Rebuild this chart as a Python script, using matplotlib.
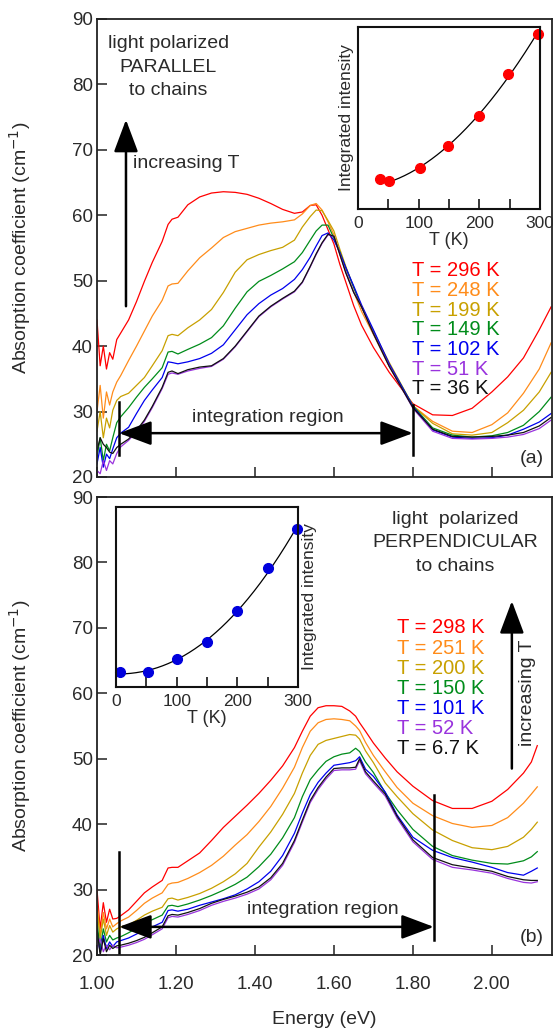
import numpy as np
import matplotlib
matplotlib.use("Agg")
import matplotlib.pyplot as plt

plt.rcParams["font.family"] = ["Liberation Sans", "DejaVu Sans"]

# ---- data ---------------------------------------------------------------
# panel (a): light polarized parallel to chains
TOP_E = [1.000, 1.008, 1.016, 1.024, 1.032, 1.040, 1.050, 1.060, 1.080, 1.100,
         1.120, 1.140, 1.165, 1.180, 1.190, 1.205, 1.230, 1.260, 1.290, 1.320,
         1.350, 1.380, 1.410, 1.440, 1.470, 1.500, 1.520, 1.540, 1.555, 1.570,
         1.585, 1.600, 1.615, 1.630, 1.650, 1.670, 1.700, 1.740, 1.800, 1.850,
         1.900, 1.950, 2.000, 2.040, 2.080, 2.120, 2.150]
TOP_296 = [44, 37, 40, 36.5, 39, 38, 41, 42, 44, 46.8, 49.9, 52.8, 56, 58.6, 59.4,
           59.7, 61.6, 62.8, 63.4, 63.6, 63.5, 63.2, 62.6, 61.8, 60.9, 60.3, 60.5,
           61.5, 61.6, 60, 57.8, 55.6, 52.5, 49.8, 46.2, 43.2, 39.8, 36, 31.2, 29.5,
           29.4, 30.5, 33, 35.3, 38.2, 42.5, 46]
TOP_248 = [30, 34, 29, 33, 31, 33, 34.5, 35.5, 37.8, 40, 42.3, 44.6, 47, 49.2, 49.5,
           49.6, 51.5, 53.5, 55, 56.6, 57.5, 58, 58.5, 58.8, 59, 59.3, 60.2, 61.5,
           61.8, 60.8, 59, 57, 54, 51.5, 48.3, 45.3, 41.8, 36.9, 30.9, 28.5, 27,
           26.8, 28, 29.8, 32.8, 36.5, 40.5]
TOP_199 = [27, 30, 26, 29, 27.5, 30.2, 31.7, 32.3, 32.8, 34, 35.2, 37, 39.3, 41.6,
           41.8, 41.6, 42.8, 44, 45.6, 48.2, 51.3, 53.2, 54, 54.6, 55.1, 56.2, 58.2,
           59.8, 60.8, 60.7, 59.2, 57.6, 54.8, 52.2, 49, 46, 42.2, 37.5, 30.9, 28.2,
           26.6, 26.4, 26.8, 28.3, 30.2, 33, 36]
TOP_149 = [23, 26, 22.5, 25, 24, 26, 28.3, 29.2, 30.6, 32.2, 33.7, 35, 36.7, 39.1,
           39.2, 38.8, 39.5, 40.3, 41.3, 43.1, 45.8, 48.3, 49.9, 50.8, 51.8, 52.9,
           54.3, 56.2, 57.6, 58.5, 58.5, 56.5, 54.4, 52, 49, 46, 42.3, 37.2, 30.9,
           27.5, 26.4, 26.1, 26.3, 26.8, 27.9, 30, 32.2]
TOP_102 = [22, 24.5, 21.5, 23.5, 22.8, 24.3, 26, 26.7, 27.6, 29.7, 31.7, 33.3, 35.2,
           37.6, 37.5, 37.3, 37.6, 38.1, 38.9, 40.2, 42.5, 44.8, 46.5, 47.8, 48.8,
           50.2, 51.7, 53.6, 55.3, 56.9, 57.3, 56.2, 54.3, 52, 49.2, 46.3, 42.5, 37.3,
           30.8, 27.2, 26.1, 25.9, 26, 26.4, 27.3, 28.4, 29.7]
TOP_51 = [21, 20.5, 22.5, 21, 22.5, 22, 23.6, 24.6, 25.6, 26.9, 28.5, 30.6, 33.5,
          35.7, 35.9, 35.7, 36.2, 36.6, 36.9, 38, 39.9, 42.2, 44.5, 46, 47.2, 48.3,
          49.7, 52.1, 54, 55.7, 57, 56.8, 54.1, 51.3, 48.3, 46, 42, 37, 30.5, 27,
          25.9, 25.8, 25.9, 26.1, 26.5, 27.4, 28.7]
TOP_36 = [24, 26, 25, 24.5, 23.8, 23.6, 24.5, 25, 25.8, 27.1, 28.7, 30.8, 33.7, 36,
          36.2, 35.8, 36.4, 36.8, 37, 38.1, 40, 42.3, 44.6, 46.1, 47.3, 48.4, 49.8,
          52.2, 54.1, 55.8, 57.1, 56.8, 54, 51.2, 48.2, 46, 41.9, 36.9, 30.6, 27.3,
          26.2, 26.1, 26.2, 26.4, 26.8, 27.8, 29.1]
TOP_TEMPS = ["296", "248", "199", "149", "102", "51", "36"]

# panel (b): light polarized perpendicular to chains
BOT_E = [1.000, 1.008, 1.016, 1.024, 1.032, 1.040, 1.050, 1.060, 1.080, 1.100,
         1.120, 1.140, 1.165, 1.180, 1.190, 1.205, 1.230, 1.260, 1.290, 1.320,
         1.350, 1.380, 1.410, 1.440, 1.470, 1.500, 1.520, 1.540, 1.560, 1.580,
         1.600, 1.620, 1.640, 1.655, 1.665, 1.680, 1.700, 1.730, 1.760, 1.800,
         1.850, 1.900, 1.950, 2.000, 2.040, 2.080, 2.100, 2.115]
BOT_298 = [30, 24, 28, 25, 27, 25.5, 25.6, 26, 26.9, 28.2, 29.5, 30.4, 31.4, 33.3,
           33.4, 33.4, 34.4, 35.6, 37.5, 39.5, 41.2, 42.9, 44.7, 46.7, 48.9, 51.7,
           54.2, 56.5, 57.8, 58.1, 58.1, 58, 57.3, 56.5, 55.5, 54.2, 52.4, 50.1, 48,
           45.8, 43.6, 42.4, 42.4, 43.5, 45.3, 47.8, 49.5, 52]
BOT_251 = [28, 23, 26.5, 24, 25.5, 24.3, 24.8, 25.2, 25.8, 26.8, 27.9, 28.7, 29.5,
           30.8, 31, 31.1, 31.7, 32.6, 33.7, 35.1, 36.8, 38.4, 40.4, 42.7, 45.5,
           48.7, 51.7, 54.2, 55.5, 56, 56.1, 56, 55.8, 55, 54.3, 52.5, 50.5, 48,
           45.6, 43.2, 41.3, 40.1, 39.5, 39.8, 41, 43.2, 44.6, 45.7]
BOT_200 = [27, 22.5, 25.5, 23, 24.5, 23.5, 24, 24.3, 24.6, 25.3, 26.1, 26.7, 27.3,
           28.6, 28.7, 28.4, 28.8, 29.4, 30.2, 31.2, 32.4, 34, 36.5, 38.8, 41.5,
           44.7, 47.8, 50.5, 52.2, 52.8, 53.1, 53.4, 53.7, 53.6, 53, 51.2, 49.4,
           46.3, 44.2, 41.6, 39.1, 37.5, 36.4, 36.1, 36.6, 38, 39.2, 40.3]
BOT_150 = [25, 21, 24, 22, 23, 22.3, 22.6, 22.8, 23.4, 24.1, 24.9, 25.4, 26.1, 27.5,
           27.6, 27.4, 27.8, 28.4, 29.1, 29.9, 30.8, 31.9, 33.5, 35.4, 37.9, 41,
           44.2, 46.8, 48.3, 49.6, 50.3, 50.7, 50.9, 51.6, 51.1, 49.5, 47.9, 44.8,
           42.2, 39.2, 36.6, 35.2, 34.5, 34, 33.9, 34.4, 35, 35.8]
BOT_101 = [23, 20.5, 23, 21, 22, 21.3, 22, 22.2, 22.6, 23.2, 23.8, 24.3, 25, 26.8,
           26.9, 26.7, 27, 27.6, 28.1, 28.6, 29.2, 30.1, 31.2, 32.8, 35.2, 38.6,
           41.7, 44.5, 46.4, 47.8, 49, 49.2, 49.4, 49.7, 50.3, 48.4, 47.3, 44.9,
           41.4, 38, 36, 34.9, 34.2, 33.4, 32.6, 32.2, 32.8, 33.3]
BOT_52 = [21, 22.5, 20.5, 21.5, 20.8, 21.5, 21.1, 21.2, 21.5, 21.9, 22.4, 23.1, 24,
          25.7, 25.9, 25.8, 26.2, 26.8, 27.6, 28.2, 28.7, 29.3, 30.1, 31.5, 33.7,
          37.2, 40.3, 43.3, 45.3, 46.9, 48.2, 48.3, 48.3, 48.4, 49.7, 47.7, 46.3,
          44.3, 40.9, 37.3, 34.6, 33.4, 33, 32.5, 31.7, 31.1, 31, 31.2]
BOT_6 = [24, 20, 22.5, 20.5, 21.5, 21, 21.4, 21.5, 21.8, 22.2, 22.7, 23.4, 24.3, 26,
         26.2, 26.1, 26.5, 27.1, 27.9, 28.5, 29, 29.6, 30.4, 31.8, 34, 37.5, 40.6,
         43.6, 45.6, 47.2, 48.5, 48.6, 48.6, 48.7, 50, 48, 46.6, 44.6, 41.2, 37.6,
         34.9, 33.8, 33.3, 32.8, 32, 31.5, 31.4, 31.4]
BOT_TEMPS = ["298", "251", "200", "150", "101", "52", "6.7"]

# insets: integrated intensity (arb. units) vs T
INSET_T_PAR = [36, 51, 102, 149, 199, 248, 296]
INSET_I_PAR = [16.5, 15.4, 22.5, 34.6, 51.1, 74.2, 96.2]
INSET_T_PERP = [6.7, 52, 101, 150, 200, 251, 298]
INSET_I_PERP = [8.3, 8.3, 15.6, 25.0, 42.0, 66.0, 87.8]

COLORS = ["#ff0000", "#ff8c1a", "#c8a000", "#008c1a", "#0000ee", "#9933dd", "#111111"]
TXT = "#2a2a2a"


def _fit_power(t, y, t_from, t_to):
    """least-squares a + b*T**n, n scanned on a grid"""
    t = np.asarray(t, float)
    y = np.asarray(y, float)
    best = None
    for n in np.linspace(1.0, 5.0, 161):
        A = np.column_stack([np.ones_like(t), t ** n])
        coef, *_ = np.linalg.lstsq(A, y, rcond=None)
        err = np.sum((A @ coef - y) ** 2)
        if best is None or err < best[0]:
            best = (err, n, coef)
    _, n, coef = best
    tt = np.linspace(t_from, t_to, 200)
    return tt, coef[0] + coef[1] * tt ** n


def _style_main(ax, show_xlabels):
    ax.set_xlim(1.0, 2.152)
    ax.set_ylim(20, 90)
    ax.set_yticks(range(20, 91, 10))
    ax.set_xticks([1.0, 1.2, 1.4, 1.6, 1.8, 2.0])
    ax.tick_params(direction="in", length=7, width=1.1, labelsize=13.5,
                   labelcolor=TXT, colors="#222")
    ax.tick_params(axis="y", pad=3)
    ax.tick_params(axis="x", pad=15, labelbottom=show_xlabels)
    ax.xaxis.set_major_formatter(matplotlib.ticker.FormatStrFormatter("%.2f"))
    for s in ax.spines.values():
        s.set_linewidth(1.3)
        s.set_color("#222")
    ax.set_ylabel("Absorption coefficient (cm$^{-1}$)", fontsize=14, color=TXT)
    ax.yaxis.set_label_coords(-0.141, 0.5)


def _style_inset(ax, ylabel_right):
    ax.set_xlim(0, 300)
    ax.set_ylim(0, 100)
    ax.set_xticks(range(0, 301, 50))
    ax.set_xticklabels(["0", "", "100", "", "200", "", "300"])
    ax.set_yticks([])
    ax.tick_params(direction="in", length=7, width=1.1, labelsize=12.5,
                   labelcolor=TXT, pad=5)
    for s in ax.spines.values():
        s.set_linewidth(1.5)
        s.set_color("#111")
    ax.set_xlabel("T (K)", fontsize=13, color=TXT, labelpad=1)
    ax.set_ylabel("Integrated intensity", fontsize=12.5, color=TXT, labelpad=3)
    if ylabel_right:
        ax.yaxis.set_label_position("right")


def _arrow(ax, start, end, both=False):
    style = "<|-|>" if both else "-|>"
    ax.annotate("", xy=end, xytext=start,
                arrowprops=dict(arrowstyle=f"{style},head_length=0.8,head_width=0.3",
                                color="k", lw=1.8, shrinkA=0, shrinkB=0,
                                mutation_scale=25))


fig = plt.figure(figsize=(5.53, 10.32), dpi=100)
ax_a = fig.add_axes([0.1754, 0.5378, 0.8226, 0.4438])
ax_b = fig.add_axes([0.1754, 0.0746, 0.8226, 0.4438])

# ---- panel (a) -----------------------------------------------------------
top_series = [TOP_296, TOP_248, TOP_199, TOP_149, TOP_102, TOP_51, TOP_36]
for vals, c in zip(top_series, COLORS):
    ax_a.plot(TOP_E, vals, color=c, lw=0.9)
_style_main(ax_a, False)

ax_a.text(1.18, 82.6, "light polarized\nPARALLEL\nto chains", ha="center",
          va="center", fontsize=14, color=TXT, linespacing=1.5)
_arrow(ax_a, (1.0734, 46.1), (1.0734, 74.6))
ax_a.text(1.091, 67.9, "increasing T", fontsize=14, color=TXT, va="center")
for i, (lab, c) in enumerate(zip(TOP_TEMPS, COLORS)):
    ax_a.text(1.797, 51.5 - 3.0 * i, f"T = {lab} K", color=c, fontsize=14.5,
              va="center")
ax_a.plot([1.056, 1.056], [23.3, 31.4], color="k", lw=1.8)
ax_a.plot([1.80, 1.80], [23.3, 31.0], color="k", lw=1.8)
_arrow(ax_a, (1.056, 26.7), (1.80, 26.7), both=True)
ax_a.text(1.433, 29.1, "integration region", ha="center", va="center",
          fontsize=14, color=TXT)
ax_a.text(2.101, 22.9, "(a)", ha="center", va="center", fontsize=14, color=TXT)

ins_a = fig.add_axes([0.6474, 0.7975, 0.3291, 0.1764])
tt, ff = _fit_power(INSET_T_PAR[1:], INSET_I_PAR[1:], 45, 298)
ins_a.plot(tt, ff, color="k", lw=0.9)
ins_a.plot(INSET_T_PAR, INSET_I_PAR, "o", color="#ff0000", ms=7, clip_on=False)
_style_inset(ins_a, False)

# ---- panel (b) -----------------------------------------------------------
bot_series = [BOT_298, BOT_251, BOT_200, BOT_150, BOT_101, BOT_52, BOT_6]
for vals, c in zip(bot_series, COLORS):
    ax_b.plot(BOT_E, vals, color=c, lw=0.9)
_style_main(ax_b, True)

ax_b.text(1.906, 83.0, "light  polarized\nPERPENDICULAR\nto chains",
          ha="center", va="center", fontsize=14, color=TXT, linespacing=1.5)
_arrow(ax_b, (2.0506, 48.5), (2.0506, 74.1))
ax_b.text(2.089, 60.1, "increasing T", fontsize=14, color=TXT, rotation=90,
          ha="center", va="center")
for i, (lab, c) in enumerate(zip(BOT_TEMPS, COLORS)):
    ax_b.text(1.759, 70.0 - 3.08 * i, f"T = {lab} K", color=c, fontsize=14.5,
              va="center")
ax_b.plot([1.056, 1.056], [20, 35.7], color="k", lw=1.8)
ax_b.plot([1.853, 1.853], [22.3, 44.4], color="k", lw=1.8)
_arrow(ax_b, (1.056, 24.3), (1.853, 24.3), both=True)
ax_b.text(1.572, 26.9, "integration region", ha="center", va="center",
          fontsize=14, color=TXT)
ax_b.text(2.101, 22.7, "(b)", ha="center", va="center", fontsize=14, color=TXT)
ax_b.set_xlabel("Energy (eV)", fontsize=14, color=TXT, labelpad=13)

ins_b = fig.add_axes([0.2098, 0.3343, 0.3291, 0.1744])
tt, ff = _fit_power(INSET_T_PERP, INSET_I_PERP, 6.7, 298)
ins_b.plot(tt, ff, color="k", lw=0.9)
ins_b.plot(INSET_T_PERP, INSET_I_PERP, "o", color="#0000dd", ms=7, clip_on=False)
_style_inset(ins_b, True)

fig.savefig("out.png", dpi=100)
